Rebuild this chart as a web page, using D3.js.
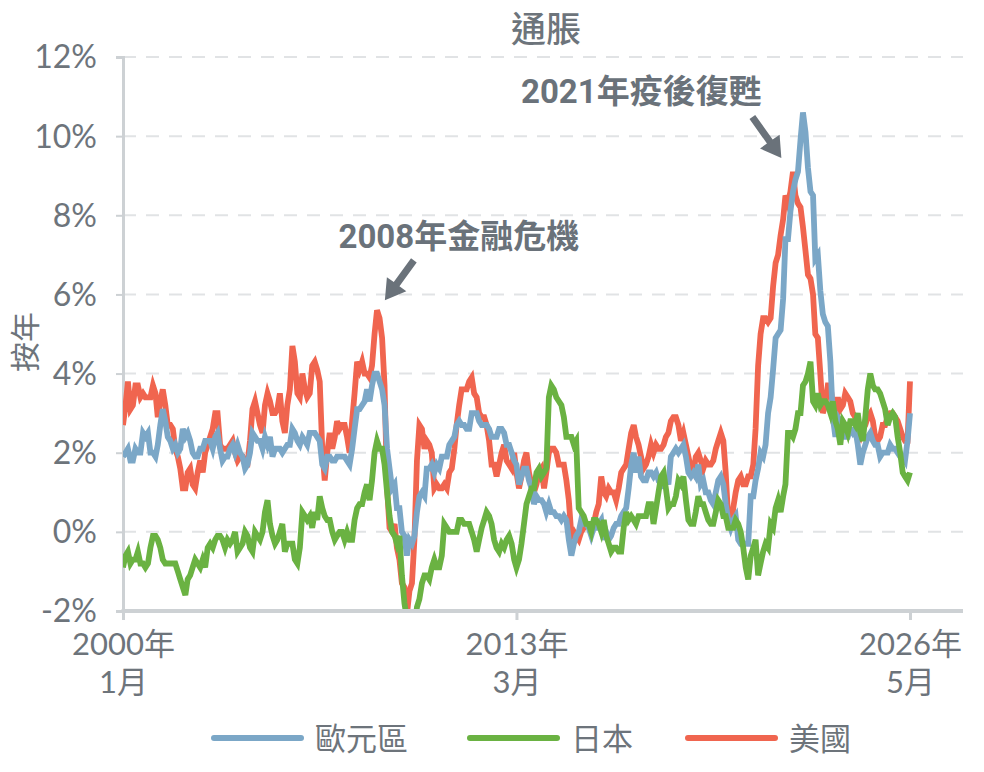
<!DOCTYPE html>
<html>
<head>
<meta charset="utf-8">
<script src="https://cdn.jsdelivr.net/npm/d3@7"></script>
<style>
  html, body { margin: 0; padding: 0; background: #fff; }
  svg { display: block; }
  .lbl { font-family: "Lato", "Noto Sans CJK TC", sans-serif; fill: #6d747b; }
  .cjk { font-family: "Noto Sans CJK TC", sans-serif; fill: #6d747b; }
  .note { font-family: "Roboto", "Noto Sans CJK TC", sans-serif; font-weight: bold; fill: #6a727a; }
</style>
</head>
<body>
<div id="chart"></div>
<script>
// 按年通脹 (%), 每月數據, 由 2000年1月 起
const startMonth = new Date(2000, 0, 1);

const euroArea = [
  1.9, 2.0, 2.1, 1.8, 1.8, 2.1, 2.0, 2.0, 2.5, 2.4, 2.5, 2.0,
  2.0, 1.9, 2.2, 2.7, 3.1, 2.8, 2.4, 2.3, 2.1, 2.2, 2.0, 2.1,
  2.6, 2.4, 2.5, 2.3, 2.0, 1.9, 1.9, 2.1, 2.1, 2.3, 2.3, 2.3,
  2.1, 2.4, 2.5, 2.1, 1.8, 1.9, 1.9, 2.1, 2.2, 2.0, 2.2, 2.0,
  1.9, 1.6, 1.7, 2.0, 2.5, 2.4, 2.3, 2.3, 2.1, 2.4, 2.2, 2.4,
  1.9, 2.1, 2.1, 2.1, 2.0, 2.1, 2.2, 2.2, 2.6, 2.5, 2.3, 2.2,
  2.4, 2.3, 2.2, 2.5, 2.5, 2.5, 2.4, 2.3, 1.7, 1.6, 1.9, 1.9,
  1.8, 1.8, 1.9, 1.9, 1.9, 1.9, 1.8, 1.7, 2.1, 2.6, 3.1, 3.1,
  3.2, 3.3, 3.6, 3.3, 3.7, 4.0, 4.0, 3.8, 3.6, 3.2, 2.1, 1.6,
  1.1, 1.2, 0.6, 0.6, 0.0, -0.1, -0.6, -0.2, -0.3, -0.1, 0.5, 0.9,
  1.0, 0.9, 1.6, 1.6, 1.7, 1.5, 1.7, 1.6, 1.9, 1.9, 1.9, 2.2,
  2.3, 2.4, 2.7, 2.8, 2.7, 2.7, 2.6, 2.6, 3.0, 3.0, 3.0, 2.8,
  2.7, 2.7, 2.7, 2.6, 2.4, 2.4, 2.4, 2.6, 2.6, 2.5, 2.2, 2.2,
  2.0, 1.8, 1.7, 1.2, 1.4, 1.6, 1.6, 1.3, 1.1, 0.7, 0.9, 0.8,
  0.8, 0.7, 0.5, 0.7, 0.5, 0.5, 0.4, 0.4, 0.3, 0.4, 0.3, -0.2,
  -0.6, -0.3, -0.1, 0.0, 0.3, 0.2, 0.2, 0.1, -0.1, 0.1, 0.1, 0.2,
  0.3, -0.2, 0.0, -0.2, -0.1, 0.1, 0.2, 0.2, 0.4, 0.5, 0.6, 1.1,
  1.7, 2.0, 1.5, 1.9, 1.4, 1.3, 1.3, 1.5, 1.5, 1.4, 1.5, 1.3,
  1.3, 1.1, 1.4, 1.2, 1.9, 2.0, 2.1, 2.0, 2.1, 2.2, 1.9, 1.5,
  1.4, 1.5, 1.4, 1.7, 1.2, 1.3, 1.0, 1.0, 0.8, 0.7, 1.0, 1.3,
  1.4, 1.2, 0.7, 0.3, 0.1, 0.3, 0.4, -0.2, -0.3, -0.3, -0.3, -0.3,
  0.9, 0.9, 1.3, 1.6, 2.0, 1.9, 2.2, 3.0, 3.4, 4.1, 4.9, 5.0,
  5.1, 5.9, 7.4, 7.4, 8.1, 8.6, 8.9, 9.1, 9.9, 10.6, 10.1, 9.2,
  8.6, 8.5, 6.9, 7.0, 6.1, 5.5, 5.3, 5.2, 4.3, 2.9, 2.4, 2.9,
  2.8, 2.6, 2.4, 2.4, 2.6, 2.5, 2.6, 2.2, 1.7, 2.0, 2.2, 2.4,
  2.5, 2.3, 2.2, 2.2, 1.9, 2.0, 2.0, 2.0, 2.2, 2.1, 2.1, 2.0,
  1.9, 1.9, 1.8, 2.3, 3.0
];

const japan = [
  -0.9, -0.6, -0.5, -0.8, -0.7, -0.7, -0.5, -0.8, -0.8, -0.9, -0.8, -0.4,
  -0.1, -0.1, -0.2, -0.4, -0.7, -0.8, -0.8, -0.8, -0.8, -0.8, -1.0, -1.2,
  -1.4, -1.6, -1.2, -1.1, -0.9, -0.7, -0.8, -0.9, -0.7, -0.9, -0.4, -0.3,
  -0.4, -0.2, -0.1, -0.1, -0.2, -0.4, -0.2, -0.3, -0.2, 0.0, -0.5, -0.4,
  -0.3, 0.0, -0.1, -0.4, -0.5, 0.0, -0.1, -0.2, 0.0, 0.5, 0.8, 0.2,
  -0.1, -0.3, -0.2, 0.0, 0.2, -0.5, -0.3, -0.3, -0.3, -0.7, -0.8, -0.4,
  0.5, 0.4, 0.3, 0.4, 0.1, 0.5, 0.3, 0.9, 0.6, 0.4, 0.3, 0.3,
  0.0, -0.2, -0.1, 0.0, 0.0, -0.2, 0.0, -0.2, -0.2, 0.3, 0.6, 0.7,
  0.7, 1.0, 1.2, 0.8, 1.3, 2.0, 2.3, 2.1, 2.1, 1.7, 1.0, 0.4,
  0.0, -0.1, -0.3, -0.1, -1.1, -1.8, -2.2, -2.2, -2.2, -2.5, -1.9, -1.7,
  -1.3, -1.1, -1.1, -1.2, -0.9, -0.7, -0.9, -0.9, -0.6, 0.2, 0.1, 0.0,
  0.0, 0.0, 0.0, 0.3, 0.3, 0.2, 0.2, 0.2, 0.0, -0.2, -0.5, -0.2,
  0.1, 0.3, 0.5, 0.4, 0.2, -0.2, -0.4, -0.5, -0.3, -0.4, -0.2, -0.1,
  -0.3, -0.7, -0.9, -0.7, -0.3, 0.2, 0.7, 0.9, 1.1, 1.1, 1.5, 1.6,
  1.4, 1.5, 1.6, 3.4, 3.7, 3.6, 3.4, 3.3, 3.2, 2.9, 2.4, 2.4,
  2.4, 2.2, 2.3, 0.6, 0.5, 0.4, 0.2, 0.2, 0.0, 0.3, 0.3, 0.2,
  0.0, 0.3, -0.1, -0.3, -0.5, -0.4, -0.4, -0.5, -0.5, 0.1, 0.5, 0.3,
  0.4, 0.3, 0.2, 0.4, 0.4, 0.4, 0.4, 0.7, 0.7, 0.2, 0.6, 1.0,
  1.4, 1.5, 1.1, 0.6, 0.7, 0.7, 0.9, 1.3, 1.2, 1.4, 0.8, 0.3,
  0.2, 0.2, 0.5, 0.9, 0.7, 0.7, 0.5, 0.3, 0.2, 0.2, 0.5, 0.8,
  0.7, 0.4, 0.4, 0.1, 0.1, 0.1, 0.3, 0.2, 0.0, -0.4, -0.9, -1.2,
  -0.6, -0.4, -0.2, -1.1, -0.8, -0.5, -0.3, -0.4, 0.2, 0.1, 0.6, 0.8,
  0.5, 0.9, 1.2, 2.5, 2.5, 2.4, 2.6, 3.0, 3.0, 3.7, 3.8, 4.0,
  4.3, 3.3, 3.2, 3.5, 3.2, 3.3, 3.3, 3.2, 3.0, 3.3, 2.8, 2.6,
  2.2, 2.8, 2.7, 2.5, 2.8, 2.8, 2.7, 3.0, 2.5, 2.3, 2.9, 3.6,
  4.0, 3.7, 3.6, 3.6, 3.5, 3.3, 3.1, 2.7, 2.9, 3.0, 2.9, 2.4,
  2.0, 1.5, 1.4, 1.3, 1.5
];

const usa = [
  2.7, 3.2, 3.8, 3.1, 3.2, 3.7, 3.7, 3.4, 3.5, 3.4, 3.4, 3.4,
  3.7, 3.5, 2.9, 3.3, 3.6, 3.2, 2.7, 2.7, 2.6, 2.1, 1.9, 1.6,
  1.1, 1.1, 1.5, 1.6, 1.2, 1.1, 1.5, 1.8, 1.5, 2.0, 2.2, 2.4,
  2.6, 3.0, 3.0, 2.2, 2.1, 2.1, 2.1, 2.2, 2.3, 2.0, 1.8, 1.9,
  1.9, 1.7, 1.7, 2.3, 3.1, 3.3, 3.0, 2.7, 2.5, 3.2, 3.5, 3.3,
  3.0, 3.0, 3.1, 3.5, 2.8, 2.5, 3.2, 3.6, 4.7, 4.3, 3.5, 3.4,
  4.0, 3.6, 3.4, 3.5, 4.2, 4.3, 4.1, 3.8, 2.1, 1.3, 2.0, 2.5,
  2.1, 2.4, 2.8, 2.6, 2.7, 2.7, 2.4, 2.0, 2.8, 3.5, 4.3, 4.1,
  4.3, 4.0, 4.0, 3.9, 4.2, 5.0, 5.6, 5.4, 4.9, 3.7, 1.1, 0.1,
  0.0, 0.2, -0.4, -0.7, -1.3, -1.4, -2.1, -1.5, -1.3, -0.2, 1.8, 2.7,
  2.6, 2.1, 2.3, 2.2, 2.0, 1.1, 1.2, 1.1, 1.1, 1.2, 1.1, 1.5,
  1.6, 2.1, 2.7, 3.2, 3.6, 3.6, 3.6, 3.8, 3.9, 3.5, 3.4, 3.0,
  2.9, 2.9, 2.7, 2.3, 1.7, 1.7, 1.4, 1.7, 2.0, 2.2, 1.8, 1.7,
  1.6, 2.0, 1.5, 1.1, 1.4, 1.8, 2.0, 1.5, 1.2, 1.0, 1.2, 1.5,
  1.6, 1.1, 1.5, 2.0, 2.1, 2.1, 2.0, 1.7, 1.7, 1.7, 1.3, 0.8,
  -0.1, 0.0, -0.1, -0.2, 0.0, 0.1, 0.2, 0.2, 0.0, 0.2, 0.5, 0.7,
  1.4, 1.0, 0.9, 1.1, 1.0, 1.0, 0.8, 1.1, 1.5, 1.6, 1.7, 2.1,
  2.5, 2.7, 2.4, 2.2, 1.9, 1.6, 1.7, 1.9, 2.2, 2.0, 2.2, 2.1,
  2.1, 2.2, 2.4, 2.5, 2.8, 2.9, 2.9, 2.7, 2.3, 2.5, 2.2, 1.9,
  1.6, 1.5, 1.9, 2.0, 1.8, 1.6, 1.8, 1.7, 1.7, 1.8, 2.1, 2.3,
  2.5, 2.3, 1.5, 0.3, 0.1, 0.6, 1.0, 1.3, 1.4, 1.2, 1.2, 1.4,
  1.4, 1.7, 2.6, 4.2, 5.0, 5.4, 5.4, 5.3, 5.4, 6.2, 6.8, 7.0,
  7.5, 7.9, 8.5, 8.3, 8.6, 9.1, 8.5, 8.3, 8.2, 7.7, 7.1, 6.5,
  6.4, 6.0, 5.0, 4.9, 4.0, 3.0, 3.2, 3.7, 3.7, 3.2, 3.1, 3.4,
  3.1, 3.2, 3.5, 3.4, 3.3, 3.0, 2.9, 2.5, 2.4, 2.6, 2.7, 2.9,
  3.0, 2.8, 2.4, 2.3, 2.4, 2.7, 2.7, 2.9, 3.0, 3.0, 2.9, 2.8,
  2.6, 2.4, 2.3, 2.3, 3.8
];

const seriesNames = ["歐元區", "日本", "美國"];
const yTicks = [-2, 0, 2, 4, 6, 8, 10, 12];
const xTickDates = [new Date(2000, 0, 1), new Date(2013, 2, 1), new Date(2026, 4, 1)];
const xTickLabels = [["2000年", "1月"], ["2013年", "3月"], ["2026年", "5月"]];

const colors = { "歐元區": "#7ba7c7", "日本": "#6ab242", "美國": "#f0654f" };
const axisGray = "#cdd1d4";

const width = 984, height = 772;
const margin = { top: 57, right: 21, bottom: 161, left: 123 };
const plotRight = 910; // 最後一個數據點位置

const svg = d3.select("#chart").append("svg")
  .attr("width", width)
  .attr("height", height);

const endMonth = d3.timeMonth.offset(startMonth, usa.length - 1);
const x = d3.scaleTime().domain([startMonth, endMonth]).range([margin.left, plotRight]);
const y = d3.scaleLinear().domain([-2, 12]).range([height - margin.bottom, margin.top]);

// 格線
svg.append("g")
  .selectAll("line")
  .data(yTicks.filter(d => d > -2))
  .join("line")
  .attr("x1", margin.left).attr("x2", width - margin.right)
  .attr("y1", d => y(d)).attr("y2", d => y(d))
  .attr("stroke", "#e1e3e5")
  .attr("stroke-width", 2)
  .attr("stroke-dasharray", "13 10");

// 左軸
const yAxis = svg.append("g")
  .attr("transform", `translate(${margin.left},0)`)
  .call(d3.axisLeft(y).tickValues(yTicks).tickSize(7).tickFormat(d => d + "%"));
yAxis.select(".domain").attr("stroke", axisGray).attr("stroke-width", 3);
yAxis.selectAll(".tick line").attr("stroke", axisGray).attr("stroke-width", 2);
yAxis.selectAll(".tick text")
  .attr("class", "lbl")
  .attr("x", -26)
  .attr("dy", "0.34em")
  .style("font-size", "32px");

// 底軸
const xAxis = svg.append("g")
  .attr("transform", `translate(0,${y(-2)})`)
  .call(d3.axisBottom(x).tickValues(xTickDates).tickSize(9).tickFormat(""));
xAxis.select(".domain").remove();
xAxis.selectAll(".tick line").attr("stroke", axisGray).attr("stroke-width", 3);
xAxis.append("line")
  .attr("x1", margin.left - 1.5).attr("x2", width - margin.right)
  .attr("stroke", axisGray).attr("stroke-width", 4);
xAxis.selectAll(".tick").each(function(d, i) {
  const t = d3.select(this).append("text")
    .attr("class", "lbl")
    .attr("text-anchor", "middle")
    .style("font-size", "31px");
  t.append("tspan").attr("x", 0).attr("y", 44).text(xTickLabels[i][0]);
  t.append("tspan").attr("x", 0).attr("y", 82).text(xTickLabels[i][1]);
});

// 線條
svg.append("clipPath").attr("id", "plot-clip")
  .append("rect")
  .attr("x", margin.left).attr("y", margin.top - 10)
  .attr("width", width - margin.right - margin.left)
  .attr("height", y(-2) - margin.top + 10);

const line = d3.line()
  .x((d, i) => x(d3.timeMonth.offset(startMonth, i)))
  .y(d => y(d));

const seriesData = { "歐元區": euroArea, "日本": japan, "美國": usa };
const drawOrder = ["美國", "歐元區", "日本"];
const linesG = svg.append("g").attr("clip-path", "url(#plot-clip)");
drawOrder.forEach(name => {
  linesG.append("path")
    .datum(seriesData[name])
    .attr("fill", "none")
    .attr("stroke", colors[name])
    .attr("stroke-width", 5.8)
    .attr("d", line);
});
// 底軸線畫在線條上方
svg.node().appendChild(xAxis.node());

// 標題及軸標籤
svg.append("text").attr("class", "cjk")
  .attr("x", 546).attr("y", 42)
  .attr("text-anchor", "middle")
  .style("font-size", "35px").style("font-weight", 500)
  .text("通脹");

svg.append("text").attr("class", "cjk")
  .attr("transform", "translate(36,342) rotate(-90)")
  .attr("text-anchor", "middle")
  .style("font-size", "30px")
  .text("按年");

// 註解
const notes = [
  { label: "2008年金融危機", date: new Date(2008, 9, 5), value: 5.85, dx: 29, dy: -40, tx: 45, ty: -12 },
  { label: "2021年疫後復甦", date: new Date(2022, 0, 10), value: 9.45, dx: -29, dy: -41, tx: -111, ty: -14 }
];
notes.forEach(n => {
  const tipX = x(n.date), tipY = y(n.value);
  const tailX = tipX + n.dx, tailY = tipY + n.dy;
  const len = Math.hypot(n.dx, n.dy);
  const ux = -n.dx / len, uy = -n.dy / len; // 由尾至尖
  const px = -uy, py = ux;
  const headLen = 20, headW = 12, shaftW = 3.5;
  const bx = tipX - ux * headLen, by = tipY - uy * headLen;
  const pts = [
    [tailX + px * shaftW, tailY + py * shaftW],
    [bx + px * shaftW, by + py * shaftW],
    [bx + px * headW, by + py * headW],
    [tipX, tipY],
    [bx - px * headW, by - py * headW],
    [bx - px * shaftW, by - py * shaftW],
    [tailX - px * shaftW, tailY - py * shaftW]
  ];
  svg.append("path")
    .attr("d", "M" + pts.map(p => p.join(",")).join("L") + "Z")
    .attr("fill", "#6a727a");
  svg.append("text").attr("class", "note")
    .attr("x", tailX + n.tx).attr("y", tailY + n.ty)
    .attr("text-anchor", "middle")
    .style("font-size", "33px")
    .text(n.label);
});

// 圖例
const legendX = [214, 470, 688];
const legend = svg.append("g").attr("transform", "translate(0,738)");
seriesNames.forEach((name, i) => {
  legend.append("line")
    .attr("x1", legendX[i]).attr("x2", legendX[i] + 87)
    .attr("stroke", colors[name])
    .attr("stroke-width", 6)
    .attr("stroke-linecap", "round");
  legend.append("text").attr("class", "cjk")
    .attr("x", legendX[i] + 101).attr("y", 12)
    .style("font-size", "31px")
    .text(name);
});
</script>
</body>
</html>
